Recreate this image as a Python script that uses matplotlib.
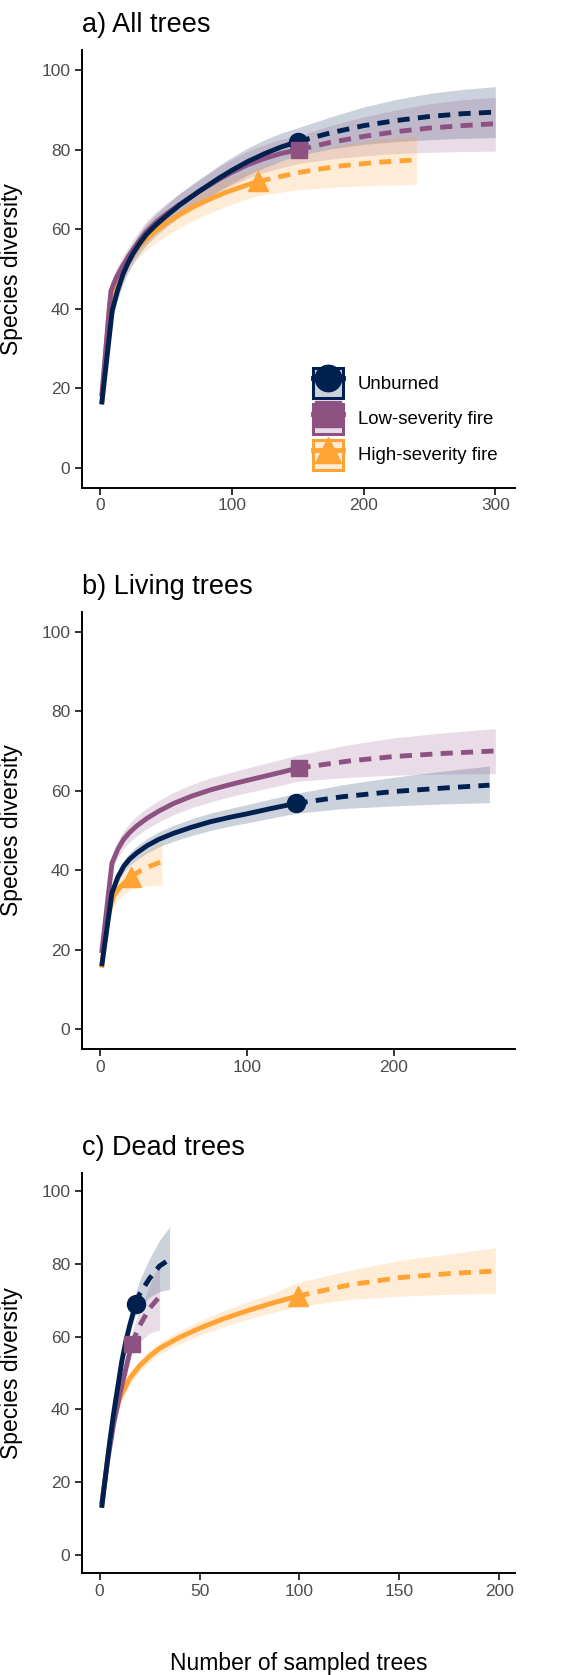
import matplotlib
matplotlib.use("Agg")
import matplotlib.pyplot as plt
from matplotlib.patches import Patch
from matplotlib.lines import Line2D
from matplotlib.colors import to_rgba

plt.rcParams['font.family'] = ['Liberation Sans', 'DejaVu Sans']

# ---------------- data ----------------
groups = ["Unburned", "Low-severity fire", "High-severity fire"]
colors = ["#002050", "#8E5282", "#FFA335"]
markers = ["o", "s", "^"]

# Panel a) All trees
a_unb_x = [1, 9, 13, 17, 21, 25, 30, 35, 42, 50, 60, 75, 90, 100, 112, 125, 137, 150, 175, 200, 225, 250, 275, 300]
a_unb_y = [16, 39.5, 44.5, 48.5, 51.5, 54, 56.5, 58.7, 61, 63.3, 66, 69.5, 72.8, 74.8, 77, 79, 80.6, 82, 84.2, 86, 87.3, 88.3, 89, 89.4]
a_unb_lo = [15.5, 37.5, 42.3, 46.1, 49, 51.5, 53.9, 56, 58.3, 60.5, 63.1, 66.5, 69.6, 71.5, 73.6, 75.5, 77.1, 78.5, 80.2, 81.3, 82, 82.5, 82.8, 83]
a_unb_hi = [16.5, 41.5, 46.7, 50.9, 54, 56.5, 59.1, 61.4, 63.7, 66.1, 68.9, 72.5, 76, 78.1, 80.4, 82.5, 84.1, 85.5, 88.2, 90.7, 92.6, 94.1, 95.1, 95.8]
a_unb_n = 150

a_low_x = [1, 8, 12, 17, 21, 25, 30, 35, 42, 50, 60, 75, 90, 100, 112, 125, 137, 151, 175, 200, 225, 250, 275, 300]
a_low_y = [18, 44.5, 47.8, 50.8, 53, 55, 57.3, 59.4, 61.7, 63.8, 66.2, 69.5, 72.5, 74.3, 76.2, 77.8, 79, 80, 81.8, 83.3, 84.5, 85.4, 86, 86.5]
a_low_lo = [17.5, 42.5, 45.6, 48.5, 50.6, 52.5, 54.8, 56.8, 59.1, 61.2, 63.5, 66.6, 69.4, 71, 72.8, 74.3, 75.4, 76.5, 77.6, 78.4, 79, 79.3, 79.5, 79.6]
a_low_hi = [18.5, 46.5, 50, 53.1, 55.4, 57.5, 59.8, 62, 64.3, 66.4, 68.9, 72.4, 75.6, 77.6, 79.6, 81.3, 82.6, 83.5, 86, 88.2, 90, 91.5, 92.5, 93.1]
a_low_n = 151

a_high_x = [1, 7, 11, 15, 20, 25, 30, 35, 42, 50, 60, 70, 82, 95, 107, 120, 150, 180, 210, 240]
a_high_y = [16, 41.4, 45.5, 48.5, 51.5, 54, 56, 57.6, 59.6, 61.5, 63.6, 65.5, 67.4, 69.2, 70.6, 72, 74.2, 75.8, 76.8, 77.4]
a_high_lo = [15.5, 39.5, 43.4, 46.3, 49.1, 51.4, 53.2, 54.7, 56.6, 58.3, 60.3, 62, 63.9, 65.7, 67.1, 68.5, 69.9, 70.6, 71, 71.3]
a_high_hi = [16.5, 43.3, 47.6, 50.7, 53.9, 56.6, 58.8, 60.5, 62.6, 64.7, 66.9, 69, 70.9, 72.7, 74.1, 75.5, 78.5, 81, 82.6, 83.5]
a_high_n = 120

# Panel b) Living trees
b_unb_x = [1, 8, 12, 16, 20, 25, 32, 40, 50, 62, 75, 88, 100, 116, 133, 165, 200, 235, 265]
b_unb_y = [15.9, 34.3, 38.3, 41, 42.8, 44.4, 46.2, 47.8, 49.3, 50.8, 52.2, 53.3, 54.2, 55.5, 56.8, 58.5, 59.8, 60.7, 61.4]
b_unb_lo = [15.4, 33, 36.9, 39.5, 41.2, 42.7, 44.4, 45.9, 47.3, 48.7, 50, 51.1, 51.9, 53.1, 54.3, 55.5, 56.2, 56.7, 57]
b_unb_hi = [16.4, 35.6, 39.7, 42.5, 44.4, 46.1, 48, 49.7, 51.3, 52.9, 54.4, 55.5, 56.5, 57.9, 59.3, 61.5, 63.4, 65, 66.2]
b_unb_n = 133

b_low_x = [1, 8, 12, 16, 20, 25, 32, 40, 50, 62, 75, 88, 100, 116, 135, 170, 200, 235, 269]
b_low_y = [19.2, 41.8, 45.3, 47.8, 49.5, 51.2, 53.1, 54.9, 56.8, 58.6, 60.2, 61.5, 62.6, 64, 65.7, 67.5, 68.6, 69.4, 70]
b_low_lo = [18.7, 40, 43.3, 45.6, 47.2, 48.7, 50.5, 52.2, 54, 55.7, 57.2, 58.5, 59.5, 60.8, 62.4, 63.4, 63.9, 64.2, 64.3]
b_low_hi = [19.7, 43.6, 47.3, 50, 51.8, 53.7, 55.7, 57.6, 59.6, 61.5, 63.2, 64.5, 65.7, 67.2, 69, 71.6, 73.3, 74.6, 75.6]
b_low_n = 135

b_high_x = [1, 5, 9, 14, 21, 28, 35, 42]
b_high_y = [15.5, 28, 33.5, 36, 38.4, 40, 41.2, 42.2]
b_high_lo = [15, 26, 31, 33.3, 35.3, 35.9, 36.2, 36.3]
b_high_hi = [16, 30, 36, 38.8, 41.5, 43.8, 45.6, 47.2]
b_high_n = 21

# Panel c) Dead trees
c_unb_x = [1, 3, 5, 7, 9, 11, 13, 15, 18, 20, 25, 30, 35]
c_unb_y = [13, 22, 31, 39, 46, 53, 58.5, 63, 69, 71.7, 76, 79.4, 81.2]
c_unb_lo = [12.6, 21.3, 30, 37.7, 44.5, 51.2, 56.5, 60.7, 66, 68, 70.8, 72.4, 73]
c_unb_hi = [13.4, 22.7, 32, 40.3, 47.5, 54.8, 60.5, 65.3, 72, 75.5, 81.5, 86.5, 90.1]
c_unb_n = 18

c_low_x = [1, 4, 7, 10, 13, 16, 20, 25, 30]
c_low_y = [14, 26, 36, 44, 51, 58, 63, 67.8, 71]
c_low_lo = [13.6, 25, 34.5, 42, 48.5, 55, 58.5, 61, 61.8]
c_low_hi = [14.4, 27, 37.5, 46, 53.5, 61, 67.5, 74, 80.1]
c_low_n = 16

c_high_x = [1, 4, 7, 10, 15, 20, 25, 30, 40, 50, 62, 75, 87, 99, 125, 150, 175, 198]
c_high_y = [13, 27, 37, 43, 48.5, 52, 54.6, 56.8, 59.8, 62.3, 64.9, 67.3, 69.3, 71.1, 74.2, 76.2, 77.3, 78]
c_high_lo = [12.6, 26.2, 35.8, 41.6, 47, 50.5, 53, 55.2, 58, 60.3, 62.7, 64.9, 66.7, 68.2, 70.2, 71.1, 71.6, 71.9]
c_high_hi = [13.4, 27.8, 38.2, 44.4, 50, 53.5, 56.2, 58.4, 61.6, 64.3, 67.1, 69.7, 71.9, 74.8, 78.2, 80.9, 82.7, 84.4]
c_high_n = 99

panels = [
    dict(title="a) All trees", xticks=[0, 100, 200, 300],
         series=[(a_unb_x, a_unb_y, a_unb_lo, a_unb_hi, a_unb_n),
                 (a_low_x, a_low_y, a_low_lo, a_low_hi, a_low_n),
                 (a_high_x, a_high_y, a_high_lo, a_high_hi, a_high_n)]),
    dict(title="b) Living trees", xticks=[0, 100, 200],
         series=[(b_unb_x, b_unb_y, b_unb_lo, b_unb_hi, b_unb_n),
                 (b_low_x, b_low_y, b_low_lo, b_low_hi, b_low_n),
                 (b_high_x, b_high_y, b_high_lo, b_high_hi, b_high_n)]),
    dict(title="c) Dead trees", xticks=[0, 50, 100, 150, 200],
         series=[(c_unb_x, c_unb_y, c_unb_lo, c_unb_hi, c_unb_n),
                 (c_low_x, c_low_y, c_low_lo, c_low_hi, c_low_n),
                 (c_high_x, c_high_y, c_high_lo, c_high_hi, c_high_n)]),
]
yticks = [0, 20, 40, 60, 80, 100]

# ---------------- figure ----------------
W, H = 561, 1675
fig = plt.figure(figsize=(W / 100, H / 100), dpi=100)

# axes boxes in pixels: (left, top, right, bottom)
boxes = [(82, 50, 515, 488), (82, 611.7, 515, 1049.3), (82, 1172.7, 515, 1573.3)]

LW = 3.5
DASH = (0, (2.5, 1.7))
msizes = [13, 12, 14]

for p, (l, t, r, b) in zip(panels, boxes):
    ax = fig.add_axes([l / W, 1 - b / H, (r - l) / W, (b - t) / H])
    ser = p["series"]
    for (x, y, lo, hi, n), c in zip(ser, colors):
        ax.fill_between(x, lo, hi, color=c, alpha=0.2, lw=0, zorder=1)
    for i in [2, 1, 0]:
        x, y, lo, hi, n = ser[i]
        c = colors[i]
        xs = [xx for xx in x if xx <= n]
        ys = [yy for xx, yy in zip(x, y) if xx <= n]
        xd = [xx for xx in x if xx >= n]
        yd = [yy for xx, yy in zip(x, y) if xx >= n]
        ax.plot(xs, ys, color=c, lw=LW, solid_capstyle='butt',
                solid_joinstyle='round', zorder=3)
        ax.plot(xd, yd, color=c, lw=LW, linestyle=DASH, dash_capstyle='butt', zorder=3)
    for i in [0, 1, 2]:
        x, y, lo, hi, n = ser[i]
        yobs = y[x.index(n)]
        ax.plot([n], [yobs], marker=markers[i], color=colors[i], ms=msizes[i],
                mec=colors[i], lw=0, zorder=4)

    xmin = min(min(s[0]) for s in ser)
    xmax = max(max(s[0]) for s in ser)
    pad = 0.05 * (xmax - xmin)
    ax.set_xlim(xmin - pad, xmax + pad)
    ax.set_ylim(-5, 105)
    ax.set_xticks(p["xticks"])
    ax.set_yticks(yticks)
    for s in ["top", "right"]:
        ax.spines[s].set_visible(False)
    for s in ["left", "bottom"]:
        ax.spines[s].set_linewidth(1.4)
        ax.spines[s].set_color("black")
    ax.tick_params(axis="both", length=5, width=1.4, color="#333333",
                   labelsize=12.5, labelcolor="#4D4D4D")
    ax.tick_params(axis="y", pad=3.5)
    ax.tick_params(axis="x", pad=2.5)
    ax.set_title(p["title"], loc="left", fontsize=19.5, pad=13)
    ax.set_ylabel("Species diversity", fontsize=16.5)
    ax.yaxis.set_label_coords(-0.136, 0.5)
    if p is panels[0]:
        handles = []
        for c, m in zip(colors, markers):
            patch = Patch(facecolor=to_rgba(c, 0.2), edgecolor=c, linewidth=2.2)
            line = Line2D([], [], color=c, lw=LW, marker=m, ms=19, mec=c)
            handles.append((patch, line))
        ax.legend(handles, groups, loc="lower left", bbox_to_anchor=(0.5346, 0.0422),
                  frameon=False, fontsize=13.4, borderpad=0, borderaxespad=0,
                  handlelength=1.61, handleheight=2.1, labelspacing=0.32,
                  handletextpad=0.78)
    if p is panels[-1]:
        ax.set_xlabel("Number of sampled trees", fontsize=16.5)
        ax.xaxis.set_label_coords(0.5, -0.197)

fig.savefig("out.png", dpi=100)
